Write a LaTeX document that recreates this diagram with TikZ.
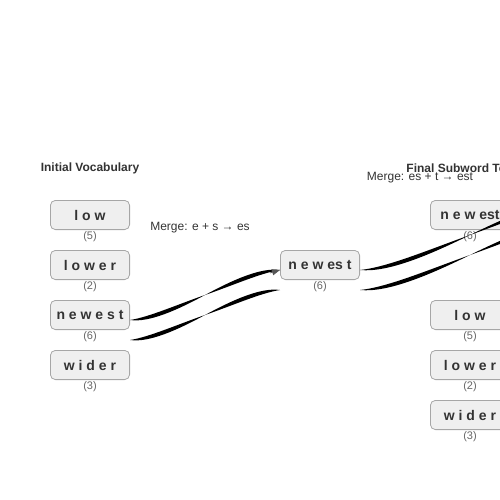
\documentclass[tikz,border=0pt]{standalone}
\usepackage{fontspec}
\setmainfont{Liberation Sans}
\usepackage{tikz}
\usetikzlibrary{positioning,calc,arrows.meta}
\usepackage{xcolor}

\definecolor{boxfill}{HTML}{EFEFEF}
\definecolor{boxline}{HTML}{A6A6A6}
\definecolor{ink}{HTML}{333333}
\definecolor{cntgray}{HTML}{666666}
\definecolor{tipgray}{HTML}{555555}

% gentle S-shaped tapered band between two points
\newcommand{\flowband}[2]{%
    \coordinate (bs) at (#1);
    \coordinate (be) at (#2);
    \coordinate (bc) at ($(bs)!0.25!(bs -| be)$);
    \coordinate (bd) at ($(be)!0.25!(be -| bs)$);
    \coordinate (bm) at ($(bs)!0.5!(be)$);
    \coordinate (bp) at ($(bs)!0.5!(bc)$);
    \coordinate (bu) at ($(bd)!0.5!(be)$);
    \coordinate (bq) at ($(bp)!0.5!($(bc)!0.5!(bd)$)$);
    \coordinate (bt) at ($($(bc)!0.5!(bd)$)!0.5!(bu)$);
    \fill[band] (bs) .. controls ([yshift=2.8pt]bp) and ([yshift=2.8pt]bq) .. (bm)
        .. controls ([yshift=2.8pt]bt) and ([yshift=2.8pt]bu) .. (be)
        .. controls ([yshift=-2.8pt]bu) and ([yshift=-2.8pt]bt) .. (bm)
        .. controls ([yshift=-2.8pt]bq) and ([yshift=-2.8pt]bp) .. (bs) -- cycle;
}

\begin{document}
\begin{tikzpicture}[x=1pt,y=-1pt,
        tok/.style={draw=boxline,fill=boxfill,rounded corners=5pt,line width=0.8pt,
            minimum width=79.2pt,minimum height=29.2pt,inner sep=0pt,text=ink,
            font=\fontsize{14}{16}\selectfont\bfseries},
        cnt/.style={below=1.5pt of #1,inner sep=0pt,text=cntgray,font=\fontsize{11}{12}\selectfont},
        ttl/.style={text=ink,inner sep=0pt,font=\fontsize{12}{14}\selectfont\bfseries},
        mrg/.style={text=ink,inner sep=0pt,font=\fontsize{12}{14}\selectfont},
        band/.style={fill=black},
        tip/.style={draw=tipgray,fill=tipgray,line width=0.6pt,-{Triangle[length=8pt,width=6pt]}}]
    \useasboundingbox (0,0) rectangle (500,500);

    % titles
    \node[ttl] (ttlA) at (90,168) {Initial Vocabulary};
    \node[ttl] (ttlB) at (470,168) {Final Subword Tokens};

    % initial vocabulary
    \node[tok] (lowA) at (90,215) {l o w};
    \node[tok, below=20pt of lowA] (lowerA) {l o w e r};
    \node[tok, below=20pt of lowerA] (newA) {n e w e s t};
    \node[tok, below=20pt of newA] (widerA) {w i d e r};
    \node[cnt=lowA] (lowAc) {(5)};
    \node[cnt=lowerA] (lowerAc) {(2)};
    \node[cnt=newA] (newAc) {(6)};
    \node[cnt=widerA] (widerAc) {(3)};

    % after first merge
    \node[mrg] (mrgA) at (200,228) {Merge: e + s → es};
    \node[tok] (newB) at (320,265) {n e w es t};
    \node[cnt=newB] (newBc) {(6)};

    % final tokens
    \node[mrg] (mrgB) at (420,178) {Merge: es + t → est};
    \node[tok] (newC) at (470,215) {n e w est};
    \node[tok] (lowC) at (470,315) {l o w};
    \node[tok, below=20pt of lowC] (lowerC) {l o w e r};
    \node[tok, below=20pt of lowerC] (widerC) {w i d e r};
    \node[cnt=newC] (newCc) {(6)};
    \node[cnt=lowC] (lowCc) {(5)};
    \node[cnt=lowerC] (lowerCc) {(2)};
    \node[cnt=widerC] (widerCc) {(3)};

    % flows
    \coordinate (outT) at (580,200);
    \coordinate (outB) at (580,220);
    \flowband{[yshift=-5pt]newA.east}{[yshift=-5pt]newB.west}
    \flowband{[yshift=-25pt]newA.east}{[yshift=-25pt]newB.west}
    \draw[tip] ($(newB.west)+(-10,8)$) -- ([yshift=-5pt]newB.west);
    \flowband{[yshift=-5pt]newB.east}{outT}
    \flowband{[yshift=-25pt]newB.east}{outB}
\end{tikzpicture}
\end{document}
